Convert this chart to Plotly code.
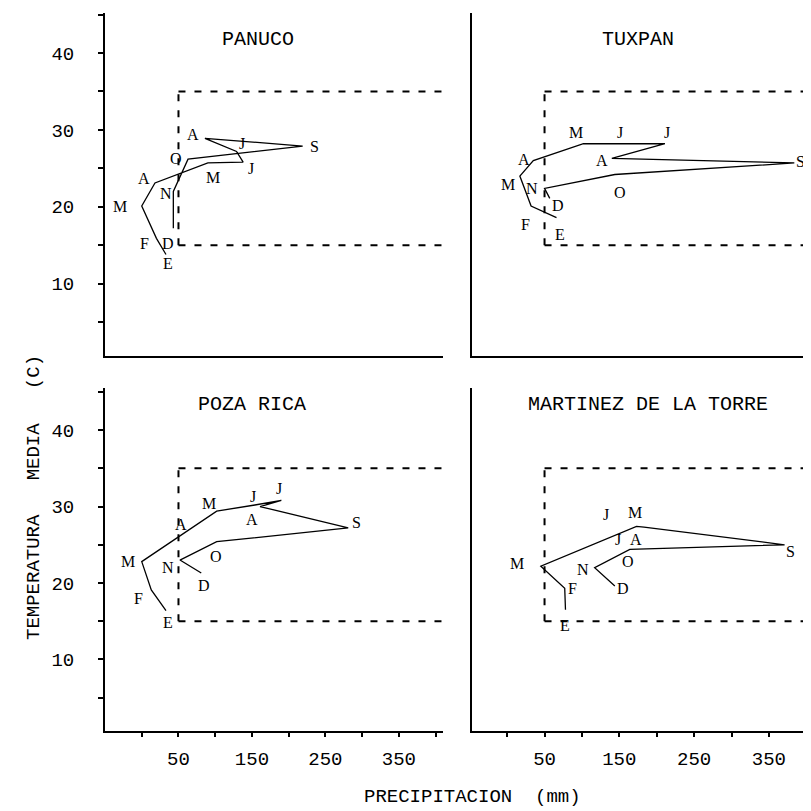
import plotly.graph_objects as go

# ---------------- data ----------------
months = ["E", "F", "M", "A", "M", "J", "J", "A", "S", "O", "N", "D"]
martinez_months = ["E", "F", "M", "", "M", "J", "J", "A", "S", "O", "N", "D"]

panuco_precip = [33, 20, 0, 18, 90, 138, 129, 86, 219, 63, 43, 43]
panuco_temp = [13.8, 15.9, 20.1, 23.1, 25.7, 25.8, 27.2, 28.9, 27.9, 26.2, 22.0, 17.2]

tuxpan_precip = [66, 32, 17, 35, 102, 157, 211, 140, 384, 144, 50, 57]
tuxpan_temp = [18.6, 20.1, 24.0, 26.0, 28.2, 28.2, 28.2, 26.3, 25.7, 24.2, 22.4, 21.1]

pozarica_precip = [33, 13, 0, 61, 102, 154, 190, 161, 281, 102, 52, 81]
pozarica_temp = [16.4, 19.1, 22.8, 26.8, 29.4, 30.2, 30.8, 30.0, 27.2, 25.4, 23.0, 21.3]

martinez_precip = [78, 77, 45, 115, 173, 183, 191, 199, 371, 164, 117, 144]
martinez_temp = [16.5, 19.3, 22.2, 25.0, 27.4, 27.3, 27.2, 27.1, 25.0, 24.4, 22.0, 19.6]

station_names = ["PANUCO", "TUXPAN", "POZA RICA", "MARTINEZ DE LA TORRE"]

# reference box (precip >= 50 mm, 15-35 C)
box_precip_min = 50
box_temp_min = 15
box_temp_max = 35

y_tick_vals = [5, 10, 15, 20, 25, 30, 35, 40, 45]
y_tick_text = ["", "10", "", "20", "", "30", "", "40", ""]
x_tick_vals = [0, 50, 100, 150, 200, 250, 300, 350, 400]
x_tick_text = ["", "50", "", "150", "", "250", "", "350", ""]

# ---------------- label offsets (screen px: dx right, dy down) ----------------
panuco_dx = [2, -12, -22, -11, 5, 8, 5, -12, 12, -12, -7, -5]
panuco_dy = [9, 5, 0, -4, 15, 6, -8, -4, 0, -1, 2, 15]
tuxpan_dx = [3, -6, -12, -9, -7, -5, 2, -10, 6, 5, -13, 8]
tuxpan_dy = [17, 18, 8, -1, -11, -11, -11, 2, -1, 18, 0, 7]
pozarica_dx = [2, -13, -14, -6, -8, -2, -2, -8, 8, -1, -12, 3]
pozarica_dy = [12, 9, 0, -7, -8, -9, -12, 13, -5, 15, 7, 12]
martinez_dx = [0, 8, -24, 0, -2, -38, -32, -20, 6, -2, -12, 8]
martinez_dy = [16, 0, -3, 0, -14, -13, 12, 11, 7, 12, 2, 2]

FONT = "Liberation Mono"
W = H = 811

left_dom = [97 / W, 435 / W]
right_dom = [464 / W, 808 / W]
top_dom = [1 - 348 / H, 1 - 5 / H]
bot_dom = [1 - 723 / H, 1 - 380 / H]

left_range = [-50, 410]
right_range = [-47, 413]
top_range = [0.6, 45.2]
bot_range = [0.65, 45.5]

panels = [
    dict(xa="x", ya="y", px=panuco_precip, ty=panuco_temp, lab=months,
         dx=panuco_dx, dy=panuco_dy, xr=left_range),
    dict(xa="x2", ya="y2", px=tuxpan_precip, ty=tuxpan_temp, lab=months,
         dx=tuxpan_dx, dy=tuxpan_dy, xr=right_range),
    dict(xa="x3", ya="y3", px=pozarica_precip, ty=pozarica_temp, lab=months,
         dx=pozarica_dx, dy=pozarica_dy, xr=left_range),
    dict(xa="x4", ya="y4", px=martinez_precip, ty=martinez_temp, lab=martinez_months,
         dx=martinez_dx, dy=martinez_dy, xr=right_range),
]

fig = go.Figure()
annotations = []
shapes = []

for p in panels:
    fig.add_trace(go.Scatter(
        x=p["px"], y=p["ty"], mode="lines",
        line=dict(color="black", width=1.3),
        xaxis=p["xa"], yaxis=p["ya"], hoverinfo="skip", showlegend=False,
    ))
    for xv, yv, t, ddx, ddy in zip(p["px"], p["ty"], p["lab"], p["dx"], p["dy"]):
        if not t:
            continue
        annotations.append(dict(
            x=xv, y=yv, xref=p["xa"], yref=p["ya"], text=t, showarrow=False,
            xanchor="center", yanchor="middle", borderpad=0,
            xshift=ddx, yshift=-ddy,
            font=dict(family="Liberation Serif", size=16, color="black"),
        ))
    dash = dict(color="black", width=2, dash="7px,9px")
    xmax = p["xr"][1]
    shapes.append(dict(type="line", xref=p["xa"], yref=p["ya"],
                       x0=box_precip_min, x1=box_precip_min,
                       y0=box_temp_min, y1=box_temp_max, line=dash))
    shapes.append(dict(type="line", xref=p["xa"], yref=p["ya"],
                       x0=box_precip_min, x1=xmax,
                       y0=box_temp_min, y1=box_temp_min, line=dash))
    shapes.append(dict(type="line", xref=p["xa"], yref=p["ya"],
                       x0=box_precip_min, x1=xmax,
                       y0=box_temp_max, y1=box_temp_max, line=dash))

# panel titles
title_pos = [(250, 32), (630, 32), (244, 397), (640, 397)]
for name, (tx, ty) in zip(station_names, title_pos):
    annotations.append(dict(x=tx / W, y=1 - ty / H, xref="paper", yref="paper",
                            text=name, showarrow=False,
                            xanchor="center", yanchor="middle",
                            font=dict(family=FONT, size=20, color="black")))

nb = "\u00a0"
annotations.append(dict(x=465 / W, y=1 - 789 / H, xref="paper", yref="paper",
                        text="PRECIPITACION" + nb * 2 + "(mm)", showarrow=False,
                        xanchor="center", yanchor="middle",
                        font=dict(family=FONT, size=19, color="black")))
annotations.append(dict(x=26 / W, y=1 - 490 / H, xref="paper", yref="paper",
                        text="TEMPERATURA" + nb * 3 + "MEDIA" + nb * 3 + "(C)",
                        showarrow=False, textangle=-90,
                        xanchor="center", yanchor="middle",
                        font=dict(family=FONT, size=19, color="black")))

def xaxis(dom, rng, anchor, ticks):
    d = dict(domain=dom, range=rng, anchor=anchor, showline=True, linewidth=2,
             linecolor="black", showgrid=False, zeroline=False, fixedrange=True)
    if ticks:
        d.update(ticks="outside", ticklen=4, tickwidth=1.5, tickcolor="black",
                 tickmode="array", tickvals=x_tick_vals, ticktext=x_tick_text,
                 tickfont=dict(family=FONT, size=19, color="black"),
                 ticklabelstandoff=5)
    else:
        d.update(ticks="", showticklabels=False)
    return d

def yaxis(dom, rng, anchor, ticks):
    d = dict(domain=dom, range=rng, anchor=anchor, showline=True, linewidth=2,
             linecolor="black", showgrid=False, zeroline=False, fixedrange=True)
    if ticks:
        d.update(ticks="outside", ticklen=5, tickwidth=1.5, tickcolor="black",
                 tickmode="array", tickvals=y_tick_vals, ticktext=y_tick_text,
                 tickfont=dict(family=FONT, size=19, color="black"),
                 ticklabelstandoff=20)
    else:
        d.update(ticks="", showticklabels=False)
    return d

fig.update_layout(
    width=W, height=H,
    margin=dict(l=0, r=0, t=0, b=0),
    paper_bgcolor="white", plot_bgcolor="white",
    showlegend=False,
    xaxis=xaxis(left_dom, left_range, "y", False),
    yaxis=yaxis(top_dom, top_range, "x", True),
    xaxis2=xaxis(right_dom, right_range, "y2", False),
    yaxis2=yaxis(top_dom, top_range, "x2", False),
    xaxis3=xaxis(left_dom, left_range, "y3", True),
    yaxis3=yaxis(bot_dom, bot_range, "x3", True),
    xaxis4=xaxis(right_dom, right_range, "y4", True),
    yaxis4=yaxis(bot_dom, bot_range, "x4", False),
    annotations=annotations,
    shapes=shapes,
)

fig.write_html("out.html")
